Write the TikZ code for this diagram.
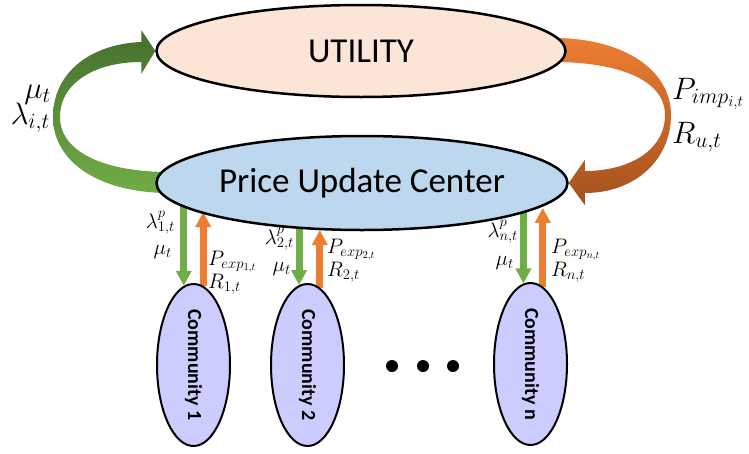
\RequirePackage{fix-cm}
\documentclass[tikz,border=0pt]{standalone}
\usepackage[no-math]{fontspec}
\setmainfont{Carlito}
\usepackage{xcolor}
\usepackage{tikz}
\usetikzlibrary{shapes.geometric,arrows.meta,backgrounds}

\definecolor{utilfill}{HTML}{FBE5D6}
\definecolor{pucfill}{HTML}{BDD7EE}
\definecolor{commfill}{HTML}{CCCCFF}
\definecolor{gdark}{HTML}{466F2C}
\definecolor{glight}{HTML}{70AD47}
\definecolor{olight}{HTML}{ED7D31}
\definecolor{odark}{HTML}{A3511E}

\tikzset{
  bigell/.style={ellipse, draw, line width=2.5pt, inner sep=0pt, font=\fontsize{35}{40}\selectfont},
  commell/.style={ellipse, draw, line width=2pt, fill=commfill, minimum width=73pt, minimum height=162pt, inner sep=0pt, font=\fontsize{20}{24}\selectfont\bfseries},
  greenpipe/.style={draw=glight, line width=7pt, -{Triangle[length=15pt,width=15pt]}},
  orangepipe/.style={draw=olight, line width=7pt, -{Triangle[length=15pt,width=15pt]}},
  greenband/.style={top color=gdark, bottom color=glight},
  orangeband/.style={top color=olight, bottom color=odark},
  biglbl/.style={inner sep=0pt, font=\fontsize{31}{36}\selectfont},
  smalllbl/.style={inner sep=0pt, font=\fontsize{21}{25}\selectfont},
  bigdot/.style={circle, fill=black, minimum size=12pt, inner sep=0pt}
}

\begin{document}
\begin{tikzpicture}[x=1pt, y=-1pt]
    \useasboundingbox (0,0) rectangle (749,453);

    \node[bigell, fill=utilfill, minimum width=409pt, minimum height=92pt] (utility) at (361,51) {UTILITY};
    \node[bigell, fill=pucfill, minimum width=411pt, minimum height=94pt] (puc) at (362,183) {Price Update Center};

    \node[commell] (c1) at (193.5,365) {\rotatebox{-90}{Community 1}};
    \node[commell] (c2) at (307.5,365) {\rotatebox{-90}{Community 2}};
    \node[commell] (cn) at (530.5,364) {\rotatebox{-90}{Community n}};

    \node[bigdot] (dot1) at (392,366) {};
    \node[bigdot] (dot2) at (423,366) {};
    \node[bigdot] (dot3) at (453,366) {};

    \begin{scope}[on background layer]
    \shade[greenband] ([xshift=14pt,yshift=-10pt]puc.west)
        .. controls +(-70,0) and +(0,45) .. (53,117)
        .. controls +(0,-45) and +(-50,2) .. ([xshift=-14pt,yshift=9pt]utility.west)
        -- ([xshift=-14pt,yshift=21pt]utility.west)
        -- (utility.west)
        -- ([xshift=-14pt,yshift=-23pt]utility.west)
        -- ([xshift=-14pt,yshift=-11pt]utility.west)
        .. controls +(-45,0) and +(0,-35) .. (60,117)
        .. controls +(0,35) and +(-65,0) .. ([xshift=14pt,yshift=11pt]puc.west)
        -- cycle;
    \shade[orangeband] ([xshift=-13pt,yshift=13pt]utility.east)
        .. controls +(70,0) and +(0,-45) .. (671,115)
        .. controls +(0,45) and +(50,0) .. ([xshift=16pt,yshift=-10pt]puc.east)
        -- ([xshift=16pt,yshift=-22pt]puc.east)
        -- (puc.east)
        -- ([xshift=16pt,yshift=23pt]puc.east)
        -- ([xshift=16pt,yshift=12pt]puc.east)
        .. controls +(45,0) and +(0,35) .. (665,115)
        .. controls +(0,-35) and +(65,0) .. ([xshift=-13pt,yshift=-11pt]utility.east)
        -- cycle;

    \draw[greenpipe] (c1.97 |- puc.center) -- (c1.97);
    \draw[orangepipe] (c1.83) -- (c1.83 |- puc.190.7);
    \draw[greenpipe] (c2.96 |- puc.center) -- (c2.96);
    \draw[orangepipe] (c2.81.5) -- (c2.81.5 |- puc.226.9);
    \draw[greenpipe] (cn.95.4 |- puc.center) -- (cn.95.4);
    \draw[orangepipe] (cn.81.7) -- (cn.81.7 |- puc.352.8);
    \end{scope}

    \node[biglbl, anchor=base east] (mulbl) at (51,98) {$\mu_t$};
    \node[biglbl, anchor=base east] (lamlbl) at (50,124) {$\lambda_{i,t}$};
    \node[biglbl, anchor=base west] (pimplbl) at (672,99) {$P_{imp_{i,t}}$};
    \node[biglbl, anchor=base west] (rulbl) at (672,143) {$R_{u,t}$};

    \node[smalllbl, anchor=base east] (lam1) at (175,228) {$\lambda^{p}_{1,t}$};
    \node[smalllbl, anchor=base east] (mu1) at (172,254) {$\mu_t$};
    \node[smalllbl, anchor=base west] (pexp1) at (208,265) {$P_{exp_{1,t}}$};
    \node[smalllbl, anchor=base west] (r1) at (208,288) {$R_{1,t}$};

    \node[smalllbl, anchor=base east] (lam2) at (294,244) {$\lambda^{p}_{2,t}$};
    \node[smalllbl, anchor=base east] (mu2) at (291,271) {$\mu_t$};
    \node[smalllbl, anchor=base west] (pexp2) at (327,253) {$P_{exp_{2,t}}$};
    \node[smalllbl, anchor=base west] (r2) at (327,276) {$R_{2,t}$};

    \node[smalllbl, anchor=base east] (lamn) at (518,237) {$\lambda^{p}_{n,t}$};
    \node[smalllbl, anchor=base east] (mun) at (514,265) {$\mu_t$};
    \node[smalllbl, anchor=base west] (pexpn) at (551,253) {$P_{exp_{n,t}}$};
    \node[smalllbl, anchor=base west] (rn) at (551,276) {$R_{n,t}$};
\end{tikzpicture}
\end{document}
